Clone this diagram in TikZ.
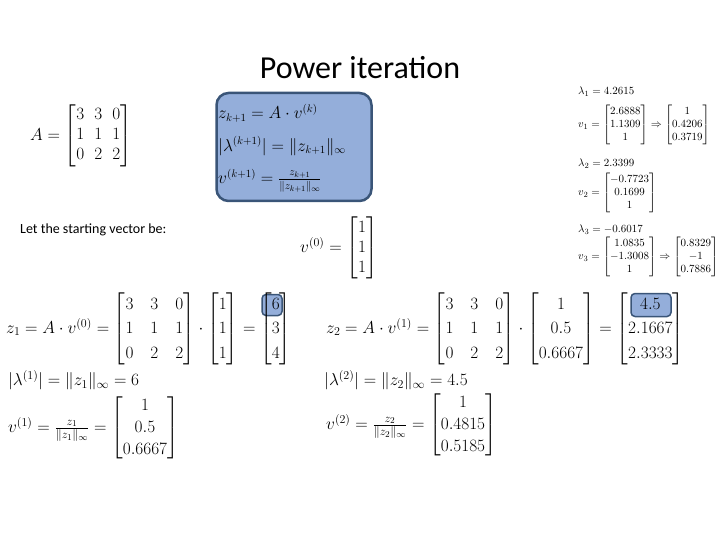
\documentclass[tikz,border=0pt]{standalone}
\usepackage{amsmath}
\usepackage{fontspec}
\setmainfont{Carlito}
\definecolor{boxfill}{HTML}{94AEDA}
\definecolor{boxdraw}{HTML}{3A5578}
\newcommand\bigmat[1]{\renewcommand\arraystretch{1.12}\setlength\arraycolsep{#1}}
\begin{document}
\begin{tikzpicture}[x=1pt,y=-1pt,
  m/.style={inner sep=0pt,anchor=west,font=\fontsize{18.5}{22}\selectfont},
  ms/.style={inner sep=0pt,anchor=west,font=\fontsize{11}{13}\selectfont},
  hl/.style={draw=boxdraw,line width=1.5pt,fill=boxfill,rounded corners=4pt}]
\useasboundingbox (0,0) rectangle (720,540);
\node[inner sep=0pt,font=\fontsize{32}{38}\selectfont] (title) at (360,68) {Power iteration};
\node[m,font=\fontsize{17}{20}\selectfont] (A) at (30,136) {$A=\begin{bmatrix}3&3&0\\1&1&1\\0&2&2\end{bmatrix}$};
\node[draw=boxdraw,line width=2.5pt,fill=boxfill,rounded corners=12pt,minimum width=155pt,minimum height=108pt] (box) at (294,147) {};
\node[m,font=\fontsize{16}{19}\selectfont] (f1) at (218,113) {$z_{k+1}=A\cdot v^{(k)}$};
\node[m,font=\fontsize{16}{19}\selectfont] (f2) at (218,146) {$|\lambda^{(k+1)}|=\|z_{k+1}\|_\infty$};
\node[m,font=\fontsize{16}{19}\selectfont] (f3) at (218,181) {$v^{(k+1)}=\frac{z_{k+1}}{\|z_{k+1}\|_\infty}$};
\node[inner sep=0pt,anchor=west,font=\fontsize{14}{17}\selectfont] (let) at (20,230) {Let the starting vector be:};
\node[m,font=\fontsize{17}{20}\selectfont] (v0) at (300,248) {$v^{(0)}=\begin{bmatrix}1\\1\\1\end{bmatrix}$};
% eigen
\node[ms] (l1) at (578,92) {$\lambda_1=4.2615$};
\node[ms] (e1) at (578,125) {$v_1=\begin{bmatrix}2.6888\\1.1309\\1\end{bmatrix}\Rightarrow\begin{bmatrix}1\\0.4206\\0.3719\end{bmatrix}$};
\node[ms] (l2) at (578,164) {$\lambda_2=2.3399$};
\node[ms] (e2) at (578,193) {$v_2=\begin{bmatrix}-0.7723\\0.1699\\1\end{bmatrix}$};
\node[ms] (l3) at (578,230) {$\lambda_3=-0.6017$};
\node[ms] (e3) at (578,257) {$v_3=\begin{bmatrix}1.0835\\-1.3008\\1\end{bmatrix}\Rightarrow\begin{bmatrix}0.8329\\-1\\0.7886\end{bmatrix}$};
% highlights
\node[hl,minimum width=20pt,minimum height=21pt] (h1) at (272,305) {};
\node[hl,minimum width=40pt,minimum height=23pt] (h2) at (651,305) {};
% step 1
\node[m] (z1) at (6,329) {\bigmat{8.5pt}$z_1=A\cdot v^{(0)}=\begin{bmatrix}3&3&0\\1&1&1\\0&2&2\end{bmatrix}\cdot\begin{bmatrix}1\\1\\1\end{bmatrix}=\begin{bmatrix}6\\3\\4\end{bmatrix}$};
\node[m] (lam1) at (8,380) {$|\lambda^{(1)}|=\|z_1\|_\infty=6$};
\node[m] (v1) at (8,428) {$v^{(1)}=\frac{z_1}{\|z_1\|_\infty}=\begin{bmatrix}1\\0.5\\0.6667\end{bmatrix}$};
% step 2
\node[m] (z2) at (326,329) {\bigmat{8.5pt}$z_2=A\cdot v^{(1)}=\begin{bmatrix}3&3&0\\1&1&1\\0&2&2\end{bmatrix}\cdot\begin{bmatrix}1\\0.5\\0.6667\end{bmatrix}=\begin{bmatrix}4.5\\2.1667\\2.3333\end{bmatrix}$};
\node[m] (lam2) at (324,380) {$|\lambda^{(2)}|=\|z_2\|_\infty=4.5$};
\node[m] (v2) at (326,425) {$v^{(2)}=\frac{z_2}{\|z_2\|_\infty}=\begin{bmatrix}1\\0.4815\\0.5185\end{bmatrix}$};
\end{tikzpicture}
\end{document}
